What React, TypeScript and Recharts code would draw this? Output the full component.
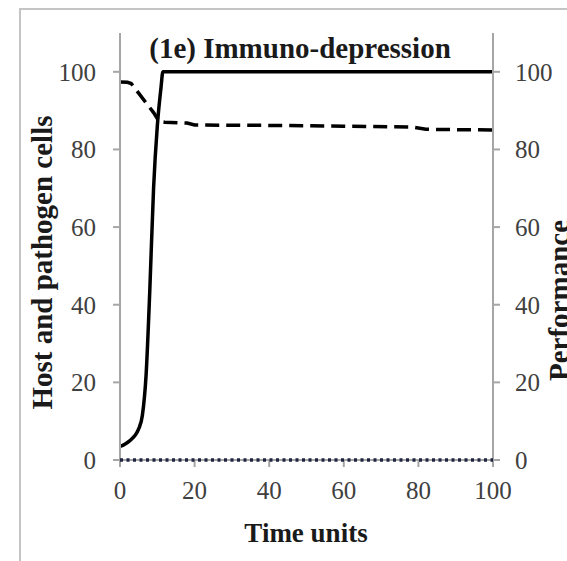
import React from 'react';
import { LineChart, Line, XAxis, YAxis } from 'recharts';

// solid curve: pathogen cells (left axis)
const pathogenTime = [0, 1, 2, 3, 4, 5, 6, 7, 8, 9, 10, 11, 11.5, 20, 40, 60, 80, 100];
const pathogenCells = [3.5, 3.9, 4.5, 5.3, 6.3, 8, 11.5, 22, 44, 70, 86, 96, 100, 100, 100, 100, 100, 100];

// dotted line: host cells stay at zero
const hostTime = [0, 20, 40, 60, 80, 100];
const hostCells = [0, 0, 0, 0, 0, 0];

// dashed curve: performance (right axis)
const perfTime = [0, 2, 3, 5, 7, 9, 10.5, 12, 18, 20, 40, 60, 78, 82, 100];
const performance = [97.4, 97.3, 97, 94.5, 92, 89.5, 87.2, 87, 86.8, 86.3, 86.2, 86, 85.8, 85.2, 85];

const xTicks = [0, 20, 40, 60, 80, 100];
const yTicks = [0, 20, 40, 60, 80, 100];

const pathogenData = pathogenTime.map((t, i) => ({ t, v: pathogenCells[i] }));
const hostData = hostTime.map((t, i) => ({ t, v: hostCells[i] }));
const perfData = perfTime.map((t, i) => ({ t, v: performance[i] }));

const serif = '"Liberation Serif", "Times New Roman", serif';
const axisStroke = { stroke: '#a6a6a6', strokeWidth: 2 };
const tickStyle = { fill: '#404040', fontSize: 25, fontFamily: serif };

const App = () => {
  return (
    <div
      style={{
        position: 'absolute',
        left: 0,
        top: 0,
        width: 567,
        height: 561,
        overflow: 'hidden',
        background: '#fff',
        fontFamily: serif,
      }}
    >
      <div
        style={{
          position: 'absolute',
          left: 19,
          top: 8,
          width: 700,
          height: 700,
          border: '2px solid #c4c4c4',
        }}
      />
      <div style={{ position: 'absolute', left: 0, top: 0 }}>
        <LineChart width={567} height={561} margin={{ top: 33, right: 24, bottom: 61, left: 20 }}>
          <XAxis
            dataKey="t"
            type="number"
            domain={[0, 100]}
            ticks={xTicks}
            interval={0}
            height={40}
            axisLine={axisStroke}
            tickLine={axisStroke}
            tickSize={7}
            tickMargin={14}
            tick={tickStyle}
            allowDuplicatedCategory={false}
          />
          <YAxis
            yAxisId="left"
            orientation="left"
            domain={[0, 110]}
            ticks={yTicks}
            interval={0}
            width={100}
            axisLine={axisStroke}
            tickLine={axisStroke}
            tickSize={7}
            tickMargin={17}
            tick={tickStyle}
          />
          <YAxis
            yAxisId="right"
            orientation="right"
            domain={[0, 110]}
            ticks={yTicks}
            interval={0}
            width={50}
            axisLine={axisStroke}
            tickLine={axisStroke}
            tickSize={7}
            tickMargin={15}
            tick={{ ...tickStyle, textAnchor: 'start' }}
          />
          <Line
            yAxisId="right"
            data={perfData}
            dataKey="v"
            type="linear"
            stroke="#000"
            strokeWidth={3.5}
            strokeDasharray="14 7"
            dot={false}
            isAnimationActive={false}
          />
          <Line
            yAxisId="left"
            data={pathogenData}
            dataKey="v"
            type="monotone"
            stroke="#000"
            strokeWidth={3.5}
            dot={false}
            isAnimationActive={false}
          />
          <Line
            yAxisId="left"
            data={hostData}
            dataKey="v"
            type="linear"
            stroke="#1f2540"
            strokeWidth={3.5}
            strokeDasharray="3 3.5"
            dot={false}
            isAnimationActive={false}
            zIndex={1000}
          />
        </LineChart>
      </div>
      <div
        style={{
          position: 'absolute',
          left: 100,
          top: 34,
          width: 400,
          textAlign: 'center',
          fontSize: 29,
          lineHeight: '29px',
          fontWeight: 'bold',
          color: '#1a1a1a',
        }}
      >
        (1e) Immuno-depression
      </div>
      <div
        style={{
          position: 'absolute',
          left: 42 - 200,
          top: 262 - 14.5,
          width: 400,
          height: 29,
          textAlign: 'center',
          fontSize: 29,
          lineHeight: '29px',
          fontWeight: 'bold',
          color: '#1a1a1a',
          transform: 'rotate(-90deg)',
          whiteSpace: 'nowrap',
        }}
      >
        Host and pathogen cells
      </div>
      <div
        style={{
          position: 'absolute',
          left: 559 - 200,
          top: 300 - 14.5,
          width: 400,
          height: 29,
          textAlign: 'center',
          fontSize: 29,
          lineHeight: '29px',
          fontWeight: 'bold',
          color: '#1a1a1a',
          transform: 'rotate(-90deg)',
          whiteSpace: 'nowrap',
        }}
      >
        Performance
      </div>
      <div
        style={{
          position: 'absolute',
          left: 106,
          top: 520,
          width: 400,
          textAlign: 'center',
          fontSize: 27,
          lineHeight: '27px',
          fontWeight: 'bold',
          color: '#1a1a1a',
        }}
      >
        Time units
      </div>
    </div>
  );
};

export default App;
